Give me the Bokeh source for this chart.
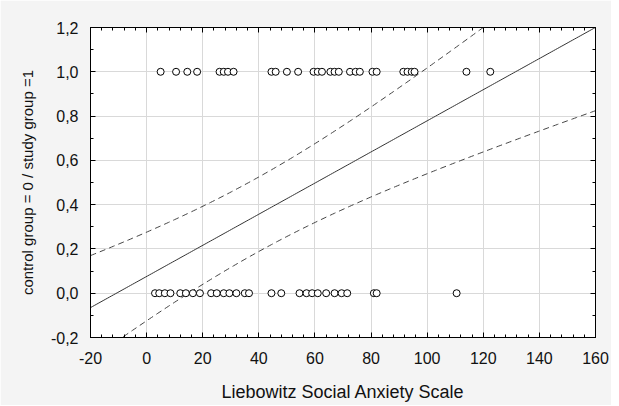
import numpy as np
from bokeh.plotting import figure
from bokeh.models import LinearAxis, Range1d, CustomJSTickFormatter, FixedTicker
from bokeh.embed import file_html
from bokeh.resources import INLINE

# Liebowitz scores of the study group (y = 1) and control group (y = 0)
study_lsas = [5, 10.5, 14.5, 18, 26, 27.5, 29, 31, 44.5, 46, 50, 54, 59.5, 61, 62.5,
              65.5, 67, 68.5, 72.5, 74.5, 76, 80.5, 82, 91.5, 93, 94.5, 95.5, 114, 122.5]
control_lsas = [3, 4.5, 6.5, 8.5, 12, 14, 16.5, 19, 23, 25, 27.5, 29.5, 32, 35, 36.5,
                44.5, 48, 54.5, 57, 59, 61, 64, 67, 69.5, 71.5, 81, 82, 110.5]
study_group = [1.0] * len(study_lsas)
control_group = [0.0] * len(control_lsas)

x_ticks = [-20, 0, 20, 40, 60, 80, 100, 120, 140, 160]
y_ticks = [-0.2, 0.0, 0.2, 0.4, 0.6, 0.8, 1.0, 1.2]

# regression line and 95% confidence band
fit_intercept = 0.0756
fit_slope = 0.00703
band_center = 39.0
band_c0 = 0.0283
band_c1 = 7.73e-6

xg = np.linspace(-20, 160, 241)
yfit = fit_intercept + fit_slope * xg
half = np.sqrt(band_c0 + band_c1 * (xg - band_center) ** 2)
upper = yfit + half
lower = yfit - half

x_minor = [a + (b - a) * k / 5 for a, b in zip(x_ticks[:-1], x_ticks[1:]) for k in range(1, 5)]
y_minor = [(a + b) / 2 for a, b in zip(y_ticks[:-1], y_ticks[1:])]

p = figure(width=611, height=405, output_backend="svg", toolbar_location=None,
           x_range=Range1d(-20, 160), y_range=Range1d(-0.2, 1.2),
           x_axis_location=None, y_axis_location=None,
           min_border_left=90, min_border_right=16, min_border_top=27, min_border_bottom=68)
p.background_fill_color = "white"
p.border_fill_color = "#f4f4f4"
p.outline_line_color = "black"
p.outline_line_width = 1

fmt = CustomJSTickFormatter(code="return tick.toFixed(1).replace('.', ',').replace('-0,0','0,0');")
xfmt = CustomJSTickFormatter(code="return tick.toFixed(0);")

def xticker():
    return FixedTicker(ticks=x_ticks, minor_ticks=x_minor)

def yticker():
    return FixedTicker(ticks=y_ticks, minor_ticks=y_minor)

def style(ax, labels=True):
    ax.major_tick_in = 5
    ax.major_tick_out = 0
    ax.minor_tick_in = 3
    ax.minor_tick_out = 0
    ax.axis_line_color = "black"
    ax.major_tick_line_color = "black"
    ax.minor_tick_line_color = "black"
    ax.major_label_text_font = "Liberation Sans"
    ax.major_label_text_font_size = "16px"
    ax.major_label_text_color = "#111111" if labels else None
    ax.axis_label_text_font = "Liberation Sans"
    ax.axis_label_text_font_style = "normal"
    ax.axis_label_text_color = "#111111"

xb = LinearAxis(ticker=xticker(), formatter=xfmt, axis_label="Liebowitz Social Anxiety Scale")
style(xb)
xb.major_label_standoff = 14
xb.axis_label_standoff = 15
xb.axis_label_text_font_size = "18px"
p.add_layout(xb, "below")

yl = LinearAxis(ticker=yticker(), formatter=fmt, axis_label="control group = 0 / study group =1")
style(yl)
yl.major_label_standoff = 12
yl.axis_label_standoff = 12
yl.axis_label_text_font_size = "15px"
p.add_layout(yl, "left")

xt = LinearAxis(ticker=xticker(), formatter=xfmt)
style(xt, labels=False)
xt.major_label_text_font_size = "0px"
p.add_layout(xt, "above")

yr = LinearAxis(ticker=yticker(), formatter=fmt)
style(yr, labels=False)
yr.major_label_text_font_size = "0px"
p.add_layout(yr, "right")

p.xgrid.ticker = FixedTicker(ticks=x_ticks)
p.ygrid.ticker = FixedTicker(ticks=y_ticks)
p.xgrid.grid_line_color = "#d9d9d9"
p.ygrid.grid_line_color = "#d9d9d9"

p.line(xg, yfit, line_color="#333333", line_width=1)
p.line(xg, upper, line_color="#444444", line_width=1, line_dash="6 4")
p.line(xg, lower, line_color="#444444", line_width=1, line_dash="6 4")

p.scatter(study_lsas, study_group, marker="circle", size=7, fill_color="white",
          line_color="black", line_width=1)
p.scatter(control_lsas, control_group, marker="circle", size=7, fill_color="white",
          line_color="black", line_width=1)

open("out.html", "w").write(file_html(p, INLINE))
